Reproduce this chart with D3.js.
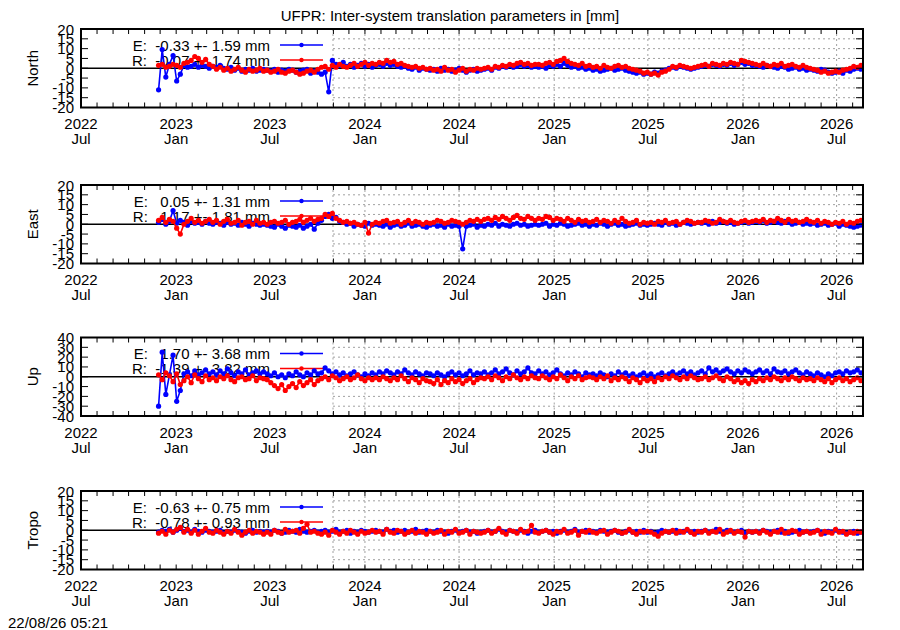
<!DOCTYPE html>
<html><head><meta charset="utf-8">
<script src="https://cdn.jsdelivr.net/npm/d3@7"></script>
<style>
body{margin:0;background:#fff;}
svg{display:block;font-family:"Liberation Sans",Arial,Helvetica,sans-serif;}
text{white-space:pre;}
</style></head><body>
<svg id="c" width="900" height="630"></svg>
<script>
// ---------------- DATA ----------------
const title = "UFPR: Inter-system translation parameters in [mm]";
const stamp = "22/08/26 05:21";
const panelNames = ["North", "East", "Up", "Tropo"];
const yDomains = [[-20, 20], [-20, 20], [-40, 40], [-20, 20]];
const yTickSteps = [5, 5, 10, 5];
const legendE = ["-0.33 +- 1.59 mm", " 0.05 +- 1.31 mm", " 1.70 +- 3.68 mm", "-0.63 +- 0.75 mm"];
const legendR = ["-0.07 +- 1.74 mm", " 1.17 +- 1.81 mm", "-1.39 +- 3.82 mm", "-0.78 +- 0.93 mm"];
const seriesNames = ["E", "R"];
const firstEpoch = "2022-11-28";   // first solution
const epochStepDays = 7;           // weekly samples
const xStart = "2022-07-01", xEnd = "2026-08-21";

const northE = [
-11, 9.5, -4.5, 2, 6.5, -6.5, -3, 1.5, 0.5, 1, 2, 0.5, 1.5, 1, 0,
1, 0.5, 1.5, 0, -0.5, 0.5, -1, 0, -1.5, -0.5, -1, 0, -1.5, -1, -0.5,
-1, -1.5, -0.5, -2, -1, -1.5, -0.5, -1, -2, -1.5, -1, -0.5, -2.5, -1.5, -2,
-3, -2, -12, 4, 2, 1.5, 3, 1, 2, 0.5, 1.5, 2.5, 1, 2, 0.5,
1.5, 2, 1, 2.5, 1.5, 2, 1, 0.5, 1, 0, -0.5, 0.5, -1, 0, -0.5,
-1, -0.5, -1.5, 0, -1, -0.5, -1.5, -1, 0, -1, -2, -1, -0.5, -1.5, -1,
-0.5, 0, -1, 0.5, 0, 1, 0.5, 1.5, 0.5, 1, 2, 1, 1.5, 0.5, 1,
0.5, 1, 0, 1.5, 1, 2, 1, 2.5, 1.5, 0.5, 1, 0, 0.5, -0.5, 0,
-1, -0.5, -1.5, -1, -0.5, 0, -1, -0.5, 0, -1, -1.5, -2, -2.5, -2, -3,
-2.5, -3, -2, -2.5, -1.5, -1, 0, 0.5, 0, 1, 0.5, 0, -0.5, 0, 0.5,
1, 1.5, 1, 2, 1.5, 1, 2, 1.5, 2.5, 1.5, 2, 3, 2, 2.5, 1.5,
1.5, 1, 0.5, 1.5, 1, 0.5, 0, 1, 0.5, -0.5, 0, 0.5, -0.5, 0, -1,
-0.5, -1, -1.5, -0.5, -1, -2, -2.5, -2, -1.5, -2.5, -1, -1.5, -0.5, 0, -0.5];
const northR = [
1.5, 2, 0.5, 1, 2, 1.5, 0.5, 2.5, 3, 4, 6, 5, 3, 4.5, 2,
1, -0.5, 0.5, -1, 0, -1.5, -0.5, 0.5, -1, -2, -0.5, -1.5, -1, 0, -1.5,
-1, -2, -1.5, -0.5, -2, -2.5, -1.5, -1, -2, -3, -2.5, -1.5, -1, -2, -0.5,
0.5, 1, -0.5, 1.5, 0.5, 2, 1, 0.5, 1.5, 2.5, 1, 2, 3, 1.5, 2.5,
2, 3, 2.5, 4, 3, 3.5, 2, 2.5, 1.5, 1, 0.5, 1, 0, 0.5, -0.5,
0, -1, -0.5, -1.5, 0.5, -1, -0.5, -2, -1, 0, -1.5, -0.5, -1, 0, -0.5,
0, 0.5, -0.5, 1, 0.5, 1.5, 1, 2, 1.5, 2.5, 3, 2, 2.5, 1.5, 2,
2, 1.5, 2.5, 3, 2, 3.5, 4, 5, 3.5, 2.5, 2, 1.5, 2.5, 1, 1.5,
0.5, 1, 0, 1.5, 0.5, 0, 1, 1.5, 0.5, 1, 0, -0.5, -1, -1.5, -2.5,
-2, -3, -2.5, -3.5, -2, -1.5, -0.5, 1, 0.5, 1.5, 1, 0.5, 0, 0.5, 1,
1.5, 2, 1, 2.5, 2, 1.5, 2.5, 2, 3, 2.5, 2, 4, 3.5, 3, 2.5,
2, 1.5, 2.5, 1.5, 1, 2, 1.5, 2.5, 1, 1.5, 2, 1, 0.5, 1.5, 0.5,
0, -0.5, -1, -2, -1.5, -2.5, -2, -1.5, -2, -1, -0.5, 0, 1, 0.5, 1.5];
const eastE = [
1, 2.5, 0, 1.5, 7, 0.5, 2, 1, -0.5, 1.5, 0.5, 1, 0, 1.5, 0.5,
0, 1, 0.5, -0.5, 1, 0, 0.5, -0.5, 1, 0, -1, 0.5, 0, -0.5, 0,
-0.5, -1, -1.5, 0, -1, -2, -0.5, -1, -1.5, -0.5, -2, -1, 0, -2.5, 0.5,
2, 4, 5, 3, 3.5, 1.5, 1, 0, 0.5, -1, 0, -0.5, -1, 0.5, -0.5,
0, -0.5, -1, 0, -1.5, -0.5, 0, -1, -0.5, 0.5, -1, -0.5, 0, -1, -1.5,
-0.5, 0, -1, -0.5, -1.5, 0, -1, -0.5, -1, -12.5, -1, -0.5, 0, -1.5, -0.5,
-1, 0, -0.5, 0.5, -1, 0, -0.5, -1, 0, 0.5, -0.5, 0, -1, -0.5, 0,
-0.5, 0, 0.5, -1, 0, -0.5, 0.5, 0, -1, -0.5, 0, 0.5, -0.5, 0, -1,
0, -0.5, 0.5, 0, -1, 0, 0.5, -0.5, 0, -1, -0.5, 0, 0.5, -0.5, 0,
-0.5, 0, 0.5, 0, -0.5, 1, 0, 0.5, -0.5, 0, 1, 0.5, 0, 0.5, 1,
0.5, 1, 0, 1.5, 0.5, 1, 1.5, 0.5, 1, 0, 0.5, 1, 1.5, 0.5, 1,
1.5, 1, 2, 0.5, 1, 1.5, 1, 0.5, 1.5, 1, 0, 0.5, 1, 0, 0.5,
0, 0.5, -0.5, 0, 0.5, -0.5, 0, 0.5, -1, 0, -0.5, -1, -1.5, -1, -0.5];
const eastR = [
2, 3.5, 1, 2.5, 1.5, -2, -5, 0, 1.5, 3, 1, 2, 0.5, 1.5, 2.5,
1, 2, 0, 1.5, 2.5, 0.5, 1, 2, -0.5, 1, 1.5, 0, 2, 0.5, 1,
0, 1, 1.5, 0.5, 1, 2, 0, 1, 1.5, 2.5, 1, 2, 3, 1.5, 2.5,
3, 5, 4, 5.5, 3, 2, 1, 1.5, 0.5, 1, 0, -0.5, 1, -4.5, 0,
1, 0.5, 1.5, 2, 0.5, 1, 1.5, 0, 1, 2, 0.5, 1.5, 1, 0, 1,
0.5, 1, 2, 1.5, 0.5, 1, 2, 1.5, 1, 0, 1, 2, 1.5, 2.5, 1.5,
2.5, 3, 2, 3.5, 2.5, 4, 3, 2, 3.5, 4.5, 3, 2.5, 4, 3, 2,
3, 2.5, 4, 3.5, 2, 3, 2.5, 1.5, 3, 2, 1, 2.5, 1.5, 2, 1,
1.5, 2.5, 1, 2, 1.5, 0.5, 2, 1, 3, 1.5, 0.5, 1, 2, 0, 1,
0.5, 1, 0, 1.5, 1, 2, 0.5, 1, 1.5, 0, 1, 2, 1.5, 0.5, 1,
1, 2, 1.5, 0.5, 1, 2.5, 1.5, 1, 2, 1, 0.5, 1.5, 2, 1, 1.5,
2, 1.5, 2.5, 1, 2, 1.5, 3, 2, 1, 2.5, 1.5, 2, 1, 1.5, 2.5,
1.5, 1, 2, 0.5, 1.5, 1, 0, 1, 0.5, 1.5, 0, 1, 0.5, 1.5, 2];
const upE = [
-30, 25, -18, 2, 22, -25, -14, 3, 5, 1, 6, 2, 4, 7, 3,
5, 2, 6, 3, 8, 4, 1, 5, 3, 7, 2, 4, 6, 3, 5,
3, 1, 4, 0, 2, -1, 3, 1, 5, 2, 0, 4, 2, 6, 3,
4, 9, 6, 3, 5, 2, 4, 1, 3, 5, 2, 0, 3, 1, 4,
2, 5, 3, 6, 4, 2, 5, 3, 7, 4, 2, 5, 3, 1, 4,
3, 1, 4, 2, 0, 3, 5, 2, 4, 1, 3, 6, 2, 4, 3,
5, 2, 4, 7, 3, 5, 8, 4, 2, 6, 3, 5, 9, 4, 3,
6, 3, 5, 2, 4, 7, 3, 1, 4, 2, 5, 3, 0, 4, 2,
3, 1, 4, 2, 0, 3, 1, 5, 2, 4, 1, 3, 0, 2, 4,
1, 3, 0, 2, 4, 1, 3, 5, 2, 4, 6, 3, 5, 2, 4,
6, 3, 9, 5, 7, 4, 6, 8, 5, 3, 6, 4, 7, 5, 3,
5, 7, 4, 6, 3, 8, 5, 4, 6, 3, 5, 7, 4, 2, 5,
3, 1, 4, 2, 0, 3, 1, 4, 5, 3, 6, 4, 5, 7, 4];
const upR = [
2, -3, 4, 1, -5, 3, -8, -4, 0, -6, 2, -2, -5, 1, -3,
-1, -4, 0, -2, 1, -3, -5, -1, 0, -3, -2, 1, -4, -1, -2,
-3, -6, -9, -12, -8, -14, -10, -7, -11, -5, -9, -6, -3, -8, -4,
-2, 0, -3, 1, -1, -4, -2, 0, -3, -1, 2, -2, -4, -1, -3,
-1, -3, 0, -2, -4, -1, -3, 1, -2, -5, -1, -3, -6, -2, -4,
-5, -7, -3, -8, -4, -6, -2, -5, -3, -7, -4, -2, -6, -3, -1,
-2, 0, -3, 1, -1, -4, 0, -2, 2, -1, -3, 0, -2, 1, -1,
-2, 1, -1, -3, 0, -2, 2, -1, -4, 0, -2, 1, -3, -1, 0,
-1, -3, 0, -2, 1, -4, -1, -3, 0, -2, -5, -1, -3, -6, -2,
-4, -2, -5, -1, -3, 0, -2, 1, -1, -3, 0, -2, 1, -1, -3,
-2, 0, -3, -1, 1, -2, -4, 0, -2, -5, -3, -6, -4, -7, -3,
-5, -2, -4, -1, -3, 0, -2, -4, -1, -3, 0, -2, -4, -1, -3,
-2, -4, -1, -3, -5, -2, -6, -3, -1, -4, -2, -5, -3, -1, -4];
const tropoE = [
-1, 0, -0.5, 0.5, -1, 0, 1, -0.5, 0, -1, 0.5, -0.5, -1, 0, -0.5,
-1, -0.5, 0, -1.5, -0.5, -1, 0, -0.5, -1, -1.5, -0.5, 0, -1, -0.5, -1,
-0.5, -1, 0, -0.5, -1.5, -1, 0, -0.5, -1, 0.5, -0.5, -1, -0.5, 0, -1,
-0.5, 0, -1, -0.5, 0.5, -1, -0.5, 0, -1.5, -0.5, -1, 0, -0.5, -1, -0.5,
0, -0.5, -1, 0.5, -0.5, 0, -1, -0.5, 0, -1, -0.5, 0.5, -1, -0.5, 0,
-0.5, -1, 0, -0.5, -1, -1.5, -0.5, 0, -1, -0.5, 0, -1, -0.5, -1.5, -1,
-0.5, 0, -1, -0.5, 0.5, -0.5, -1, 0, -0.5, -1, 0, -0.5, -1.5, -0.5, 0,
-1, -0.5, 0, -1, -0.5, -1.5, -0.5, 0, -1, -0.5, 0.5, -1, -0.5, 0, -1,
-0.5, -1, 0, -0.5, -1, -0.5, 0, -1, -1.5, -0.5, 0, -1, -0.5, -1, 0,
-1, -0.5, -1.5, -1, 0, -0.5, -1, -0.5, 0, -1, -0.5, 0, -1, -0.5, -1,
-0.5, 0, -1, -0.5, 0.5, -0.5, -1, 0, -0.5, -1, -0.5, 0, -1.5, -0.5, -1,
-0.5, -1, 0, -0.5, -1, -0.5, 0, -1, -0.5, -1.5, -1, -0.5, 0, -1, -0.5,
-1, -0.5, 0, -1, -1.5, -0.5, -1, 0, -0.5, -1, -1.5, -1, -0.5, -1.5, -1];
const tropoR = [
-1.5, -0.5, -2, 0, -1, 0.5, 1.5, -1, 0.5, -1.5, 0, -2, -0.5, 1, -1,
-1.5, 0, -1, -2, -0.5, -1.5, 0.5, -1, -2.5, -1, 0, -1.5, -0.5, -1, -2,
-1, -2, 0, -1, -1.5, 0.5, -1, -0.5, 0, -1.5, 1, 3, -1, -0.5, -1.5,
-2, -1, -2.5, 0, -1, -2, -0.5, -1.5, 0, -1, -2, -0.5, -1.5, -1, 0,
-1, -0.5, -2, 0.5, -1, -1.5, 0, -0.5, -2, -1, 0, -1.5, -0.5, -1, -2,
-0.5, -1.5, -1, 0, -2, -0.5, -1, 0.5, -1.5, -1, 0, -2, -0.5, -1, -1.5,
-1, 0, -1.5, -0.5, 1, -1, -2, 0, -0.5, -1.5, 0.5, -1, -0.5, 2.5, -1,
-1.5, -0.5, 0, -1, -2, -0.5, -1, 0.5, -1.5, -1, 0, -2.5, -0.5, -1, 0,
-1, -1.5, -0.5, 0, -2, -1, 0, -0.5, -1.5, -1, 0.5, -1, -2, -0.5, -1,
-0.5, -1, -2, -3, -1.5, -0.5, -1, 0, -1.5, -0.5, -1, 0.5, -1, -2, -0.5,
-1, 0, -1.5, -0.5, -1, 0.5, -2, -1, 0, -1.5, -0.5, -1, -3.5, -0.5, -1,
-0.5, -1.5, 0, -1, -2, -0.5, -1, 0.5, -1.5, -1, 0, -0.5, -2, -1, -0.5,
-1.5, -1, 0, -2, -0.5, -1, -1.5, 0.5, -1, -0.5, -2, -1, -1.5, -0.5, -1];
const panelSeries = [[northE, northR], [eastE, eastR], [upE, upR], [tropoE, tropoR]];
const seriesColors = ["#0000ff", "#ff0000"];

// ---------------- LAYOUT ----------------
const svg = d3.select("#c");
const plotLeft = 81, plotRight = 863;
const panelTops = [29, 185, 337.5, 491];
const panelH = 78.5;
const keyRight = 333;
const parseDay = d3.utcParse("%Y-%m-%d");
const t0 = parseDay(firstEpoch);

const x = d3.scaleUtc().domain([parseDay(xStart), parseDay(xEnd)]).range([plotLeft, plotRight]);
const majorTicks = x.ticks(d3.utcMonth.every(6));
const minorTicks = d3.utcMonth.range(parseDay(xStart), parseDay(xEnd));
const fmtY = d3.utcFormat("%Y"), fmtM = d3.utcFormat("%b");
const font = 15;

svg.append("rect").attr("width", 900).attr("height", 630).attr("fill", "#fff");
svg.append("text").attr("x", 450).attr("y", 15).attr("text-anchor", "middle")
  .attr("dominant-baseline", "central").attr("font-size", font).text(title);
svg.append("text").attr("x", 8).attr("y", 622)
  .attr("dominant-baseline", "central").attr("font-size", font).text(stamp);

const gridStyle = s => s.attr("stroke", "#a0a0a0").attr("stroke-width", 1).attr("stroke-dasharray", "2,3");

panelNames.forEach((name, p) => {
  const top = panelTops[p], bot = top + panelH;
  const y = d3.scaleLinear().domain(yDomains[p]).range([bot, top]);
  const yTicks = d3.range(yDomains[p][0], yDomains[p][1] + 0.001, yTickSteps[p]);
  const g = svg.append("g");
  const clipId = "clip" + p;
  g.append("clipPath").attr("id", clipId).append("rect")
    .attr("x", plotLeft).attr("y", top).attr("width", plotRight - plotLeft).attr("height", panelH);

  // grid (visible only to the right of the key box)
  g.selectAll(".gv").data(majorTicks.filter(d => x(d) > keyRight + 2)).join("line")
    .attr("x1", d => x(d)).attr("x2", d => x(d)).attr("y1", top).attr("y2", bot).call(gridStyle);
  g.selectAll(".gh").data(yTicks.filter(v => v !== 0 && v !== yDomains[p][0] && v !== yDomains[p][1])).join("line")
    .attr("x1", keyRight).attr("x2", plotRight).attr("y1", d => y(d)).attr("y2", d => y(d)).call(gridStyle);
  g.append("line").attr("x1", keyRight).attr("x2", keyRight).attr("y1", top).attr("y2", bot).call(gridStyle);

  // zero line
  g.append("line").attr("x1", plotLeft).attr("x2", plotRight).attr("y1", y(0)).attr("y2", y(0))
    .attr("stroke", "#000").attr("stroke-width", 1.5);

  // legend
  const legY = [top + 16, top + 31];
  const legTexts = [legendE[p], legendR[p]];
  seriesNames.forEach((sn, k) => {
    g.append("text").attr("x", 270).attr("y", legY[k]).attr("text-anchor", "end")
      .attr("dominant-baseline", "central").attr("font-size", font).text(sn + ":  " + legTexts[k]);
    g.append("line").attr("x1", 280).attr("x2", 323).attr("y1", legY[k]).attr("y2", legY[k])
      .attr("stroke", seriesColors[k]).attr("stroke-width", 1.5);
    g.append("circle").attr("cx", 301.5).attr("cy", legY[k]).attr("r", 2.2).attr("fill", seriesColors[k]);
  });

  // data
  const dg = g.append("g").attr("clip-path", `url(#${clipId})`);
  panelSeries[p].forEach((vals, k) => {
    const pts = vals.map((v, i) => ({ t: d3.utcDay.offset(t0, i * epochStepDays), v }));
    dg.append("path").datum(pts)
      .attr("d", d3.line().x(d => x(d.t)).y(d => y(d.v)))
      .attr("fill", "none").attr("stroke", seriesColors[k]).attr("stroke-width", 1.6);
    dg.selectAll(null).data(pts).join("circle")
      .attr("cx", d => x(d.t)).attr("cy", d => y(d.v)).attr("r", 2.6).attr("fill", seriesColors[k]);
  });

  // ticks
  const tk = g.append("g").attr("stroke", "#000").attr("stroke-width", 1);
  minorTicks.forEach(d => {
    const xx = x(d);
    tk.append("line").attr("x1", xx).attr("x2", xx).attr("y1", bot).attr("y2", bot - 5);
    tk.append("line").attr("x1", xx).attr("x2", xx).attr("y1", top).attr("y2", top + 5);
  });
  yTicks.forEach(v => {
    tk.append("line").attr("x1", plotLeft).attr("x2", plotLeft + 7).attr("y1", y(v)).attr("y2", y(v));
    tk.append("line").attr("x1", plotRight).attr("x2", plotRight - 7).attr("y1", y(v)).attr("y2", y(v));
  });

  // border
  g.append("rect").attr("x", plotLeft).attr("y", top).attr("width", plotRight - plotLeft).attr("height", panelH)
    .attr("fill", "none").attr("stroke", "#000").attr("stroke-width", 2);

  // y tick labels
  g.selectAll(".yl").data(yTicks).join("text")
    .attr("x", 74).attr("y", d => y(d)).attr("text-anchor", "end").attr("dominant-baseline", "central")
    .attr("font-size", font).text(d => d);
  // x tick labels
  majorTicks.forEach(d => {
    g.append("text").attr("x", x(d)).attr("y", bot + 16).attr("text-anchor", "middle")
      .attr("dominant-baseline", "central").attr("font-size", font).text(fmtY(d));
    g.append("text").attr("x", x(d)).attr("y", bot + 31).attr("text-anchor", "middle")
      .attr("dominant-baseline", "central").attr("font-size", font).text(fmtM(d));
  });
  // panel label
  g.append("text").attr("transform", `translate(32,${(top + bot) / 2}) rotate(-90)`)
    .attr("text-anchor", "middle").attr("dominant-baseline", "central").attr("font-size", font).text(name);
});
</script>
</body></html>
